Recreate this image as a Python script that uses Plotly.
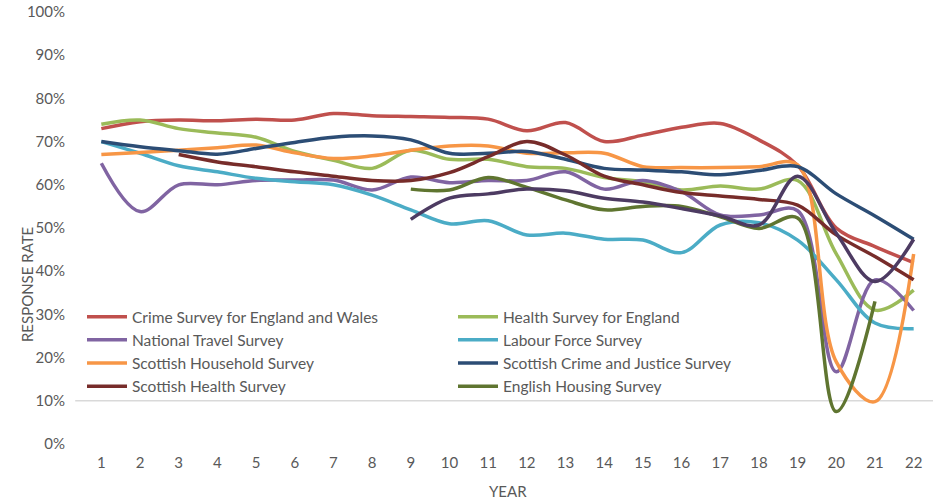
import plotly.graph_objects as go

years = list(range(1, 23))

crime_ew = [73, 74.6, 75, 74.8, 75.2, 75, 76.5, 76, 75.8, 75.6, 75.2, 72.5, 74.4, 70, 71.5, 73.3, 74.2, 70.4, 64.5, 50, 45.7, 42]
health_eng = [74, 75, 73, 72, 71, 67.7, 65.7, 63.8, 68, 65.9, 65.9, 64.2, 63.8, 61.7, 60.7, 58.8, 59.7, 59, 61, 44, 31, 35.6]
nat_travel = [65, 53.8, 60, 60, 61, 61.1, 61.1, 58.8, 61.8, 60.5, 61, 61, 63, 59, 61, 58.4, 53, 53, 54, 16.7, 38, 30.9]
labour_force = [70, 67.3, 64.4, 63, 61.5, 60.7, 60, 57.6, 54.2, 51, 51.7, 48.4, 48.8, 47.4, 47.2, 44.3, 50.7, 51.2, 47.2, 38, 28, 26.7]
scot_household = [67, 67.5, 68, 68.6, 69.2, 67.4, 66.1, 66.7, 68, 69, 69, 67.3, 67.4, 67.3, 64.2, 64, 64, 64.2, 64.6, 19, 9.8, 44]
scot_crime = [70, 68.8, 67.9, 67.1, 68.4, 69.8, 71, 71.3, 70.4, 67.3, 67.3, 67.7, 65.9, 63.8, 63.4, 63, 62.3, 63.3, 64.2, 57.9, 52.8, 47.4]
scot_health = [None, None, 67, 65.3, 64.2, 63, 62, 61, 61, 62.8, 66.5, 70, 66.9, 62, 60, 58.2, 57.4, 56.6, 55.3, 48.4, 43.4, 38]
eng_housing = [None] * 8 + [59, 58.8, 61.7, 59.4, 56.5, 54.2, 55, 55, 52.6, 49.9, 52.3, 7.5, 33, None]
unlabelled = [None] * 8 + [52, 56.9, 57.9, 59, 58.6, 56.9, 56, 54.5, 52.8, 50.7, 62, 48.8, 37.6, 47.4]

series = [
    ("Crime Survey for England and Wales", crime_ew, "#C0504D", True),
    ("Health Survey for England", health_eng, "#9BBB59", True),
    ("National Travel Survey", nat_travel, "#8064A2", True),
    ("Labour Force Survey", labour_force, "#4BACC6", True),
    ("Scottish Household Survey", scot_household, "#F79646", True),
    ("Scottish Crime and Justice Survey", scot_crime, "#2C4D75", True),
    ("Scottish Health Survey", scot_health, "#772C2A", True),
    ("English Housing Survey", eng_housing, "#5F7530", True),
    ("Other survey", unlabelled, "#4D3B62", False),
]

FONT = "Lato"
GREY = "#595959"

fig = go.Figure()
for name, vals, color, show in series:
    fig.add_trace(go.Scatter(
        x=years, y=[None if v is None else v / 100 for v in vals],
        mode="lines", name=name, showlegend=show,
        line=dict(color=color, width=3.5, shape="spline", smoothing=1),
    ))

fig.add_shape(type="line", xref="paper", yref="y", x0=-0.008, x1=1, y0=0.1, y1=0.1,
              line=dict(color="#D9D9D9", width=1.5), layer="below")

fig.update_layout(
    width=944, height=504,
    margin=dict(l=82, r=11, t=12, b=60, autoexpand=False),
    paper_bgcolor="white", plot_bgcolor="white",
    font=dict(family=FONT, size=15, color=GREY),
    showlegend=True,
    legend=dict(
        orientation="h", x=0.0, y=0.333, xanchor="left", yanchor="top",
        entrywidth=316, entrywidthmode="pixels",
        font=dict(family=FONT, size=15.5, color=GREY),
        bgcolor="rgba(255,255,255,0)", tracegroupgap=0, itemwidth=40,
    ),
    xaxis=dict(
        range=[0.5, 22.5], tickmode="array", tickvals=years,
        ticktext=[str(y) for y in years], showgrid=False, zeroline=False,
        showline=False, ticks="", ticklabelstandoff=8, automargin=False,
        tickfont=dict(family=FONT, size=15, color=GREY),
    ),
    yaxis=dict(
        range=[0, 1], tickmode="array", tickvals=[i / 10 for i in range(11)],
        ticktext=[f"{i * 10}%" for i in range(11)], showgrid=False,
        zeroline=False, showline=False, ticks="", ticklabelstandoff=16,
        automargin=False,
        tickfont=dict(family=FONT, size=15, color=GREY),
    ),
    annotations=[
        dict(text="RESPONSE RATE", xref="paper", yref="paper", x=-0.0646, y=0.368,
             xanchor="center", yanchor="middle", textangle=-90, showarrow=False,
             font=dict(family=FONT, size=15, color=GREY)),
        dict(text="YEAR", xref="paper", yref="paper", x=0.5, y=-0.109,
             xanchor="center", yanchor="middle", showarrow=False,
             font=dict(family=FONT, size=15, color=GREY)),
    ],
)

fig.write_html("out.html", config={"displayModeBar": False},
               post_script="document.body.style.margin='0';")
